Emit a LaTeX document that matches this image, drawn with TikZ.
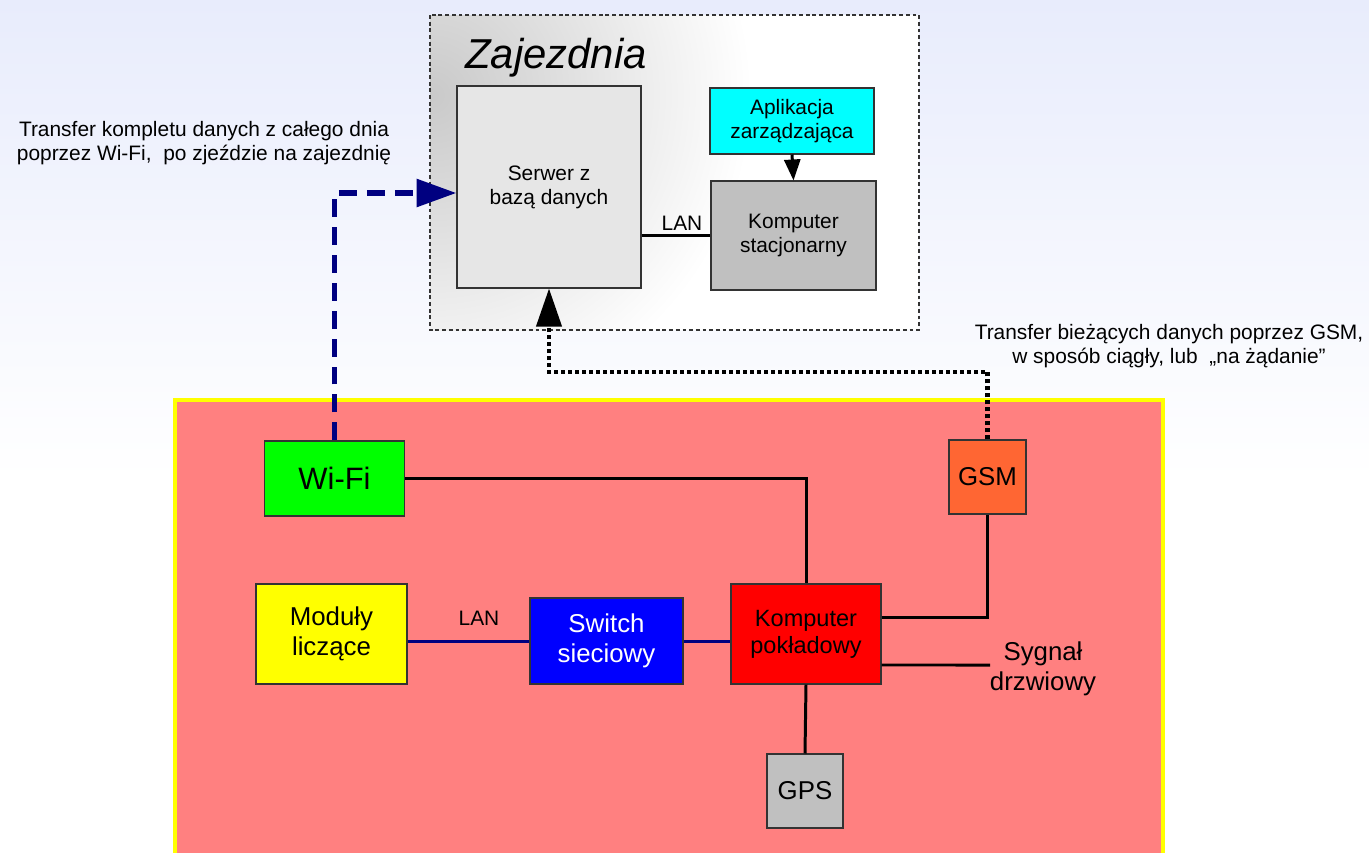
\documentclass[tikz,border=0pt]{standalone}
\usepackage{fontspec}
\setmainfont{Liberation Sans}
\usepackage{tikz}
\usetikzlibrary{arrows.meta}
\definecolor{tlo}{RGB}{232,236,252}
\definecolor{rozowy}{RGB}{255,128,128}
\definecolor{zolty}{RGB}{255,255,0}
\definecolor{zielony}{RGB}{0,255,0}
\definecolor{niebieski}{RGB}{0,0,255}
\definecolor{czerwony}{RGB}{255,0,0}
\definecolor{pomarancz}{RGB}{255,102,51}
\definecolor{szary}{RGB}{192,192,192}
\definecolor{jasnoszary}{RGB}{230,230,230}
\definecolor{turkus}{RGB}{0,255,255}
\definecolor{granat}{RGB}{0,0,128}
\definecolor{ramka}{RGB}{51,51,51}

\begin{document}
\begin{tikzpicture}[x=0.02cm,y=-0.02cm]
\tikzstyle{every node}+=[inner sep=0pt]
\tikzstyle{blok}=[draw=ramka, line width=0.6pt, align=center]
\tikzstyle{maly}=[font=\fontsize{11.9}{13.8}\selectfont, align=center]
\tikzstyle{sredni}=[font=\fontsize{13.4}{15.5}\selectfont, align=center]
\tikzstyle{duzy}=[font=\fontsize{14.7}{17}\selectfont, align=center]
\tikzstyle{linia}=[black, line width=1.7pt]
\tikzstyle{lan}=[granat, line width=1.7pt]
\useasboundingbox (0,0) rectangle (1369,852);
\fill [white] (0,0) rectangle (1369,852);
\shade [top color=tlo, bottom color=white] (0,0) rectangle (1369,480);
\fill [white] (430,15) rectangle (919,330);
\begin{scope}
\clip (430,15) rectangle (919,330);
\shade [inner color=gray!42, outer color=white] (432,95) circle (6.4cm);
\end{scope}
\draw [ramka, line width=0.6pt, dash pattern=on 2.2pt off 1.6pt] (430,15) rectangle (919,330);
\node [anchor=base west, font=\fontsize{23.8}{28}\selectfont\itshape] (zajezdnia) at (465,68) {Zajezdnia};
\node [blok, fill=jasnoszary, minimum width=3.68cm, minimum height=4.04cm, maly] (serwer) at (549,187) {Serwer z\\bazą danych};
\node [blok, fill=turkus, minimum width=3.28cm, minimum height=1.32cm, maly] (aplikacja) at (792,121) {Aplikacja\\zarządzająca};
\node [blok, fill=szary, minimum width=3.3cm, minimum height=2.18cm, maly] (stacjonarny) at (793.5,235.5) {Komputer\\stacjonarny};
\draw [linia, -{Triangle[length=0.42cm,width=0.32cm]}] (aplikacja.south) -- (stacjonarny.north);
\draw [linia] (serwer.east |- stacjonarny.west) -- (stacjonarny.west);
\node [maly] (lanGora) at (682,223) {LAN};
\node [maly] (opisWifi) at (204,143) {Transfer kompletu danych z całego dnia\\poprzez Wi-Fi,~ po zjeździe na zajezdnię};
\node [maly] (opisGsm) at (1169,346) {Transfer bieżących danych poprzez GSM,\\w sposób ciągły, lub~ „na żądanie”};
\draw [zolty, line width=2.3pt, fill=rozowy] (175,400) rectangle (1163,880);
\node [blok, fill=zielony, minimum width=2.8cm, minimum height=1.5cm, font=\fontsize{17.6}{20}\selectfont] (wifi) at (334.5,478.5) {Wi-Fi};
\node [blok, fill=zolty, minimum width=3.02cm, minimum height=2.0cm, duzy] (moduly) at (331.5,634) {Moduły\\liczące};
\node [blok, fill=niebieski, minimum width=3.06cm, minimum height=1.72cm, duzy, text=white] (przelacznik) at (606.5,641) {Switch\\sieciowy};
\node [blok, fill=czerwony, minimum width=3.0cm, minimum height=2.0cm, sredni] (pokladowy) at (806,634) {Komputer\\pokładowy};
\node [blok, fill=pomarancz, minimum width=1.54cm, minimum height=1.48cm, duzy] (gsm) at (987.5,477) {GSM};
\node [blok, fill=szary, minimum width=1.52cm, minimum height=1.48cm, duzy] (gps) at (805,791) {GPS};
\node [duzy] (sygnal) at (1043,669) {Sygnał\\drzwiowy};
\node [maly] (lanDol) at (479,618) {LAN};
\coordinate (drzwi) at (990,665);
\coordinate (zakret) at (549,372);
\draw [lan] (moduly.east |- przelacznik.west) -- (przelacznik.west);
\draw [lan] (przelacznik.east) -- (przelacznik.east -| pokladowy.west);
\draw [linia] (wifi.east) -| (pokladowy.north);
\draw [linia] ([yshift=0.34cm]pokladowy.east) -| (gsm.south);
\draw [linia] ([yshift=-0.62cm]pokladowy.east) -- (drzwi);
\draw [linia] (pokladowy.south) -- (gps.north);
\draw [granat, line width=3.4pt, dash pattern=on 0.36cm off 0.2cm, -{Triangle[length=0.8cm,width=0.54cm]}] (wifi.north) |- ([yshift=-0.12cm]serwer.west);
\draw [black, line width=2.3pt, dash pattern=on 0.08cm off 0.06cm, -{Triangle[length=0.76cm,width=0.5cm]}] (gsm.north) |- (zakret) -- (serwer.south);
\end{tikzpicture}
\end{document}
